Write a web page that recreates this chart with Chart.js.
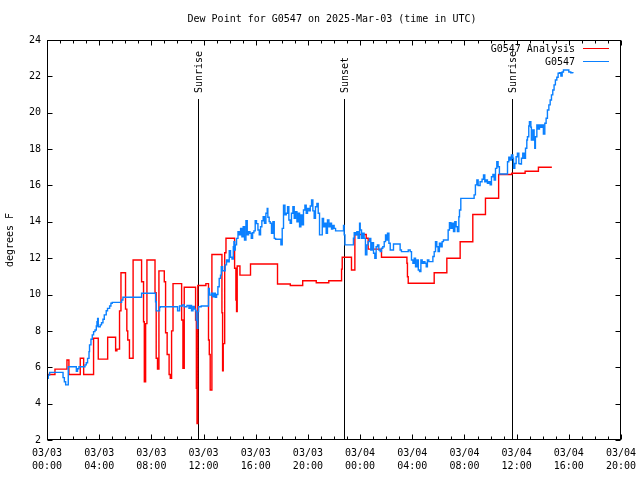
<!DOCTYPE html>
<html>
<head>
<meta charset="utf-8">
<script src="https://cdn.jsdelivr.net/npm/chart.js@4"></script>
<style>
html,body{margin:0;padding:0;background:#fff;}
canvas{display:block;}
</style>
</head>
<body>
<canvas id="c" width="640" height="480"></canvas>
<script>
// ---- data (hours since 03/03 00:00 UTC, dew point in F) ----
const chartTitle = 'Dew Point for G0547 on 2025-Mar-03 (time in UTC)';
const yTitle = 'degrees F';
const dayLabels = ['03/03', '03/04', '03/05'];
const seriesNames = ['G0547 Analysis', 'G0547'];

const anaHours = [0.00,0.61,1.53,1.68,2.55,2.81,3.57,3.93,4.65,5.26,5.36,5.56,5.67,6.02,6.12,6.19,6.32,6.60,7.25,7.40,7.46,7.56,7.66,8.28,8.37,8.47,8.58,8.99,9.09,9.21,9.36,9.45,9.55,9.66,10.32,10.42,10.52,11.39,11.45,11.50,11.56,12.18,12.38,12.44,12.51,12.64,13.41,13.46,13.51,13.62,13.72,14.38,14.48,14.53,14.58,14.79,15.60,17.67,18.65,19.60,20.64,21.60,22.58,22.63,23.34,23.60,24.47,24.62,25.64,27.59,27.63,27.69,29.68,30.65,31.67,32.64,33.61,34.62,35.63,36.65,37.67,38.70];
const anaDew = [5.6,5.9,6.4,5.6,6.5,5.6,7.6,6.45,7.65,6.9,7.0,9.1,11.2,9.2,8.0,7.5,6.5,11.9,10.7,8.5,5.2,8.4,11.9,10.1,6.5,5.9,11.3,10.7,7.9,6.7,5.6,5.4,8.0,10.6,8.6,5.95,10.4,8.6,4.85,2.9,10.5,10.6,7.5,6.7,4.75,12.2,9.0,5.8,7.3,12.3,13.1,11.45,9.7,9.06,11.57,11.07,11.68,10.58,10.5,10.76,10.65,10.76,11.4,12.05,11.35,13.3,13.1,12.5,12.05,11.72,10.98,10.62,11.2,12.0,12.9,14.4,15.3,16.6,16.67,16.78,17.0,17.0];

const obsHours = [0.00,0.10,0.20,1.23,1.33,1.43,1.63,2.25,2.34,2.45,2.91,3.01,3.11,3.22,3.26,3.37,3.47,3.57,3.68,3.78,3.83,3.88,3.93,4.08,4.18,4.29,4.39,4.54,4.64,4.80,4.90,5.00,5.72,5.82,7.25,8.32,8.38,8.63,8.68,10.01,10.16,10.37,10.52,10.73,10.88,10.98,11.08,11.19,11.29,11.39,11.44,11.52,11.57,11.62,11.82,12.38,12.44,12.59,12.69,12.80,12.90,13.00,13.10,13.20,13.30,13.36,13.46,13.66,13.76,13.87,13.97,14.07,14.18,14.28,14.33,14.38,14.43,14.53,14.64,14.74,14.84,14.94,15.04,15.14,15.25,15.35,15.45,15.56,15.66,15.76,15.86,15.96,16.06,16.17,16.27,16.37,16.47,16.57,16.67,16.78,16.88,16.93,17.03,17.11,17.21,17.32,17.42,17.52,17.93,18.03,18.13,18.24,18.34,18.44,18.54,18.64,18.74,18.85,18.95,19.05,19.16,19.26,19.36,19.46,19.56,19.66,19.77,19.87,19.97,20.08,20.18,20.28,20.38,20.48,20.58,20.69,20.79,20.89,21.10,21.20,21.30,21.40,21.50,21.61,21.71,21.81,21.91,22.01,22.12,22.73,22.78,22.84,23.49,23.55,23.65,23.75,23.85,23.96,24.01,24.11,24.21,24.31,24.41,24.52,24.62,24.72,24.82,24.92,25.03,25.13,25.23,25.33,25.44,25.54,25.64,25.74,25.85,25.95,26.05,26.10,26.21,26.31,26.56,27.07,27.17,27.69,27.84,27.94,28.05,28.15,28.25,28.36,28.46,28.56,28.66,28.76,28.86,28.97,29.07,29.16,29.27,29.58,29.68,29.78,29.88,29.98,30.08,30.19,30.29,30.39,30.75,30.85,30.96,31.06,31.16,31.26,31.36,31.46,31.57,31.62,31.72,32.74,32.84,32.95,33.05,33.20,33.35,33.46,33.56,33.66,33.76,33.87,33.97,34.07,34.18,34.28,34.38,34.48,34.58,34.68,35.30,35.40,35.50,35.60,35.71,35.76,35.86,35.96,36.06,36.17,36.27,36.37,36.47,36.58,36.68,36.78,36.83,36.93,36.98,37.09,37.13,37.24,37.34,37.39,37.44,37.55,37.65,37.75,37.85,37.95,38.05,38.16,38.26,38.36,38.47,38.57,38.67,38.77,38.87,38.97,39.08,39.18,39.28,39.39,39.49,39.59,40.00,40.15,40.31];
const obsDew = [5.4,5.57,5.72,5.43,5.2,5.03,6.03,5.78,5.92,6.03,6.13,6.25,6.49,6.86,7.23,7.54,7.78,7.96,8.05,8.27,8.51,8.69,8.23,8.33,8.45,8.64,8.88,9.11,9.24,9.37,9.52,9.57,9.7,9.85,10.07,9.6,9.1,9.3,9.33,9.1,9.37,9.43,9.33,9.4,9.24,9.4,9.11,9.35,9.2,9.1,8.6,8.14,9.06,9.33,9.37,10.34,9.97,10.07,9.88,10.07,9.85,10.0,10.43,10.89,11.07,11.53,11.31,11.63,11.9,11.8,12.41,12.05,11.95,12.63,12.91,12.45,12.73,13.09,13.46,13.28,13.64,13.18,13.73,13.0,14.06,13.28,13.46,13.37,13.09,13.4,13.5,14.06,13.9,13.55,13.28,13.73,14.06,14.28,13.92,14.47,14.74,14.25,14.01,13.92,13.37,14.0,13.09,13.04,12.73,13.64,14.92,14.38,14.47,14.83,14.1,13.92,14.47,14.83,14.19,14.56,14.0,14.47,13.73,14.38,13.83,14.65,14.92,14.47,14.74,14.6,14.87,15.2,14.6,14.19,14.83,15.01,14.47,13.28,14.19,13.73,13.92,13.37,14.1,13.73,13.92,13.6,13.8,13.64,13.5,13.8,13.28,12.73,13.1,13.4,13.28,13.46,13.09,13.92,13.55,13.09,13.37,13.09,12.18,12.73,12.91,13.09,12.45,12.85,12.27,12.0,12.63,12.73,12.45,12.36,12.55,12.63,12.91,13.28,13.0,13.37,12.82,12.45,12.78,12.45,12.36,12.45,12.36,11.9,11.72,12.0,11.53,11.9,11.35,11.26,11.9,11.72,11.81,11.72,11.53,11.9,11.81,12.09,12.36,12.91,12.63,12.36,12.82,12.63,12.91,13.0,13.55,13.95,13.64,13.92,13.46,14.0,13.73,13.46,14.28,14.65,15.29,15.48,16.03,16.3,16.0,16.2,16.34,16.58,16.2,16.3,16.12,16.2,16.03,16.48,16.6,16.3,16.94,17.31,17.03,16.63,17.3,17.55,17.4,17.68,17.5,16.94,17.21,17.58,17.77,17.2,17.18,17.5,17.77,17.5,18.05,18.5,18.68,19.27,19.51,19.2,18.5,19.05,18.5,18.05,18.68,19.33,19.1,19.33,19.2,19.33,18.83,19.42,19.7,20.15,20.43,20.7,20.98,21.25,21.53,21.8,21.95,22.17,22.2,22.02,22.24,22.35,22.24,22.2,22.17];

const eventHours = [11.58, 22.8, 35.61];
const eventLabels = ['Sunrise', 'Sunset', 'Sunrise'];

const xMin = 0, xMax = 44, xStep = 4;
const yMin = 2, yMax = 24, yStep = 2;

const RED = '#ff0000';
const BLUE = '#0a80ff';
const FONT = '10px "DejaVu Sans Mono", "Liberation Mono", monospace';

function pts(hs, vs) { return hs.map((h, i) => ({ x: h, y: vs[i] })); }

const decor = {
  id: 'decor',
  beforeDatasetsDraw(chart) {
    const { ctx, chartArea: a, scales: { x } } = chart;
    ctx.save();
    ctx.strokeStyle = '#000';
    ctx.lineWidth = 1;
    ctx.fillStyle = '#000';
    ctx.font = FONT;
    eventHours.forEach((h, i) => {
      const px = Math.round(x.getPixelForValue(h)) + 0.5;
      ctx.beginPath();
      ctx.moveTo(px, a.top + 59);
      ctx.lineTo(px, a.bottom);
      ctx.stroke();
      ctx.save();
      ctx.translate(px + 1, a.top + 53);
      ctx.rotate(-Math.PI / 2);
      ctx.textAlign = 'left';
      ctx.textBaseline = 'middle';
      ctx.fillText(eventLabels[i], 0, 0);
      ctx.restore();
    });
    ctx.restore();
  },
  afterDraw(chart) {
    const { ctx, chartArea: a, scales: { x, y } } = chart;
    ctx.save();
    ctx.strokeStyle = '#000';
    ctx.fillStyle = '#000';
    ctx.lineWidth = 1;
    const L = Math.round(a.left) + 0.5, R = Math.round(a.right) - 0.5;
    const T = Math.round(a.top) + 0.5, B = Math.round(a.bottom) - 0.5;
    ctx.strokeRect(L, T, R - L, B - T);
    ctx.beginPath();
    for (let h = xMin; h <= xMax; h += 1) {
      const px = Math.round(x.getPixelForValue(h)) + 0.5;
      const len = (h % xStep === 0) ? 5 : 3;
      ctx.moveTo(px, B); ctx.lineTo(px, B - len);
      ctx.moveTo(px, T); ctx.lineTo(px, T + len);
    }
    for (let v = yMin; v <= yMax; v += yStep) {
      const py = Math.round(y.getPixelForValue(v)) + 0.5;
      ctx.moveTo(L, py); ctx.lineTo(L + 5, py);
      ctx.moveTo(R, py); ctx.lineTo(R - 5, py);
    }
    ctx.stroke();

    ctx.font = FONT;
    ctx.textBaseline = 'middle';
    ctx.textAlign = 'center';
    ctx.fillText(chartTitle, (a.left + a.right) / 2 - 2, 19);

    ctx.save();
    ctx.translate(10, (a.top + a.bottom) / 2);
    ctx.rotate(-Math.PI / 2);
    ctx.fillText(yTitle, 0, 0);
    ctx.restore();

    // legend
    const colors = [RED, BLUE];
    seriesNames.forEach((n, i) => {
      const yy = a.top + 9 + i * 13;
      ctx.textAlign = 'right';
      ctx.fillStyle = '#000';
      ctx.fillText(n, a.right - 46, yy + 0.5);
      ctx.strokeStyle = colors[i];
      ctx.beginPath();
      ctx.moveTo(a.right - 38, yy - 0.5);
      ctx.lineTo(a.right - 12, yy - 0.5);
      ctx.stroke();
    });
    ctx.restore();
  }
};

new Chart(document.getElementById('c'), {
  type: 'line',
  data: {
    datasets: [
      { label: seriesNames[1], data: pts(obsHours, obsDew), borderColor: BLUE, borderWidth: 1.4, pointRadius: 0, stepped: true, fill: false, order: 0 },
      { label: seriesNames[0], data: pts(anaHours, anaDew), borderColor: RED, borderWidth: 1.4, pointRadius: 0, stepped: true, fill: false, order: 1 }
    ]
  },
  options: {
    responsive: false,
    animation: false,
    events: [],
    layout: { padding: { left: 0, right: 19, top: 40, bottom: 0 } },
    plugins: { legend: { display: false }, title: { display: false }, tooltip: { enabled: false } },
    scales: {
      x: {
        type: 'linear', min: xMin, max: xMax,
        grid: { display: false, drawTicks: false },
        border: { display: false },
        ticks: {
          stepSize: xStep, autoSkip: false, maxRotation: 0, minRotation: 0,
          padding: 7, color: '#000',
          font: { family: '"DejaVu Sans Mono", "Liberation Mono", monospace', size: 10, lineHeight: 1.3 },
          callback(v) {
            const d = Math.floor(v / 24);
            const hh = v - d * 24;
            return [dayLabels[d], String(hh).padStart(2, '0') + ':00'];
          }
        },
        afterFit(s) { s.height = 40; s.paddingLeft = 0; s.paddingRight = 0; }
      },
      y: {
        min: yMin, max: yMax,
        grid: { display: false, drawTicks: false },
        border: { display: false },
        ticks: {
          stepSize: yStep, padding: 6, color: '#000',
          font: { family: '"DejaVu Sans Mono", "Liberation Mono", monospace', size: 10 }
        },
        afterFit(s) { s.width = 47; s.paddingTop = 0; s.paddingBottom = 0; }
      }
    }
  },
  plugins: [decor]
});
</script>
</body>
</html>
